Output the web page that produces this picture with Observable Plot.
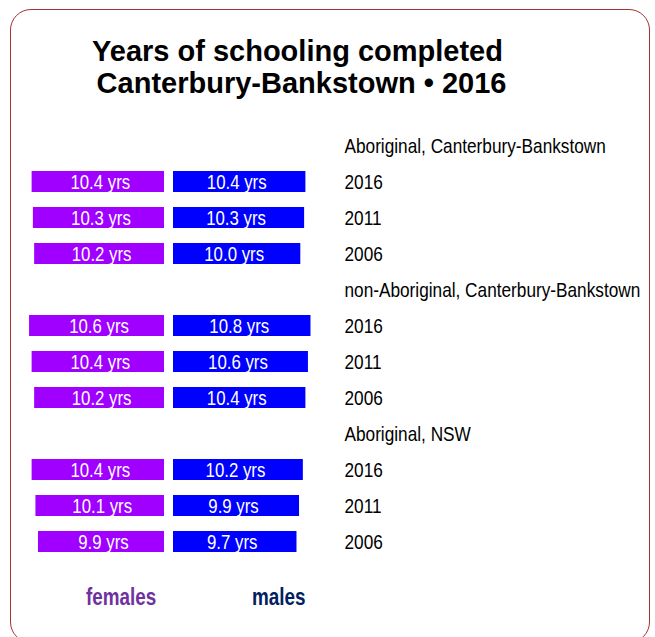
<!DOCTYPE html>
<html>
<head>
<meta charset="utf-8">
<script src="https://cdn.jsdelivr.net/npm/d3@7"></script>
<script src="https://cdn.jsdelivr.net/npm/@observablehq/plot@0.6"></script>
<style>
  html, body { margin: 0; padding: 0; background: #fff; }
  #wrap { position: relative; width: 655px; height: 637px; overflow: hidden; font-family: "Liberation Sans", Arial, sans-serif; }
  #border { position: absolute; left: 10px; top: 9px; width: 640px; height: 634px; box-sizing: border-box; border: 1px solid #a83232; border-radius: 21px; }
  #title { position: absolute; left: 0; top: 35px; width: 595px; text-align: center; white-space: pre; font-weight: bold; font-size: 29px; line-height: 32px; color: #000; }
  #chart { position: absolute; left: 0; top: 0; }
  .leg { position: absolute; top: 585px; font-weight: bold; font-size: 23px; line-height: 24px; transform: scaleX(0.82); transform-origin: 0 0; }
</style>
</head>
<body>
<div id="wrap">
  <div id="border"></div>
  <div id="chart"></div>
  <div id="title">Years of schooling completed
 Canterbury-Bankstown • 2016</div>
  <div class="leg" style="left:86px;color:#7030a0">females</div>
  <div class="leg" style="left:252px;color:#002060">males</div>
</div>
<script>
const groups = ["Aboriginal, Canterbury-Bankstown", "non-Aboriginal, Canterbury-Bankstown", "Aboriginal, NSW"];
const years = ["2016", "2011", "2006"];
const femaleYears = [
  [10.4, 10.3, 10.2],
  [10.6, 10.4, 10.2],
  [10.4, 10.1, 9.9]
];
const maleYears = [
  [10.4, 10.3, 10.0],
  [10.8, 10.6, 10.4],
  [10.2, 9.9, 9.7]
];

const keys = [];
const rows = [];
groups.forEach((g, gi) => {
  keys.push(g);
  years.forEach((y, yi) => {
    const key = g + "|" + y;
    keys.push(key);
    rows.push({key, f: femaleYears[gi][yi], m: maleYears[gi][yi]});
  });
});
const fmt = v => v.toFixed(1) + " yrs";

const chart = Plot.plot({
  width: 655,
  height: 637,
  marginLeft: 0,
  marginRight: 311,
  marginTop: 117.1,
  marginBottom: 67.7,
  style: {background: "transparent", fontFamily: "Liberation Sans, Arial, sans-serif", fontSize: "21px", color: "#000", overflow: "visible"},
  x: {domain: [-164 / 12.73, 180 / 12.73], axis: null},
  y: {domain: keys, padding: 0.423},
  marks: [
    Plot.barX(rows, {x1: d => -d.f, x2: 0, y: "key", fill: "#a000ff"}),
    Plot.barX(rows, {x1: 0, x2: "m", y: "key", fill: "#0000ff", dx: 9}),
    Plot.text(rows, {x: d => -d.f / 2, y: "key", text: d => fmt(d.f), fill: "white", fontSize: 20.5, dx: 2}),
    Plot.text(rows, {x: d => d.m / 2, y: "key", text: d => fmt(d.m), fill: "white", fontSize: 20.5, dx: 6}),
    Plot.axisY({anchor: "right", tickSize: 0, tickPadding: 0, textAnchor: "start", fontSize: 21, label: null,
      tickFormat: k => k.includes("|") ? k.split("|")[1] : k})
  ]
});
document.getElementById("chart").appendChild(chart);
// emulate the narrow typeface of the original by condensing glyphs horizontally
chart.querySelectorAll("text").forEach(t => {
  const len = t.getComputedTextLength();
  if (len > 0) {
    t.setAttribute("textLength", (len * 0.82).toFixed(2));
    t.setAttribute("lengthAdjust", "spacingAndGlyphs");
  }
});
</script>
</body>
</html>
